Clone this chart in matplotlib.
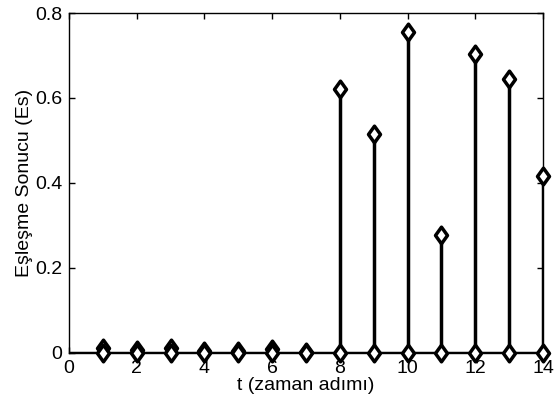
import matplotlib
matplotlib.use('Agg')
import matplotlib.pyplot as plt
from matplotlib.path import Path

plt.rcParams['font.family'] = ['Liberation Sans', 'DejaVu Sans']

# time steps and matching scores
t = [1, 2, 3, 4, 5, 6, 7, 8, 9, 10, 11, 12, 13, 14]
es = [0.012, 0.006, 0.012, 0.005, 0.005, 0.010, 0.002,
      0.621, 0.515, 0.755, 0.278, 0.704, 0.645, 0.416]
zeros = [0] * len(t)

xticks = [0, 2, 4, 6, 8, 10, 12, 14]
yticks = [0, 0.2, 0.4, 0.6, 0.8]
yticklabels = ['0', '0.2', '0.4', '0.6', '0.8']

# diamond a bit taller than wide
diamond = Path([(0, 1), (0.72, 0), (0, -1), (-0.72, 0), (0, 1)],
               [Path.MOVETO, Path.LINETO, Path.LINETO, Path.LINETO,
                Path.CLOSEPOLY])

fig = plt.figure(figsize=(5.59, 4.05), dpi=100)
ax = fig.add_axes([0.1234, 0.1284, 0.848, 0.8395])

lw = 2.5
ms = 12
mk = dict(ls='none', marker=diamond, ms=ms, mew=lw, mfc='white', mec='black',
          clip_on=False, zorder=3)
ax.vlines(t, 0, es, color='black', lw=lw, zorder=2)
ax.plot(t, es, **mk)
ax.plot(t, zeros, **mk)
ax.axhline(0, color='black', lw=lw, zorder=1)

ax.set_xlim(0, 14)
ax.set_ylim(0, 0.8)
ax.set_xticks(xticks)
ax.set_yticks(yticks)
ax.set_yticklabels(yticklabels)
ax.tick_params(direction='in', top=True, right=True, length=4, width=1,
               labelsize=14, pad=5)
for s in ax.spines.values():
    s.set_linewidth(1)

ax.set_xlabel('t (zaman adımı)', fontsize=14, labelpad=0)
ax.set_ylabel('Eşleşme Sonucu (Es)', fontsize=14, labelpad=1)

fig.savefig('out.png', dpi=100)
